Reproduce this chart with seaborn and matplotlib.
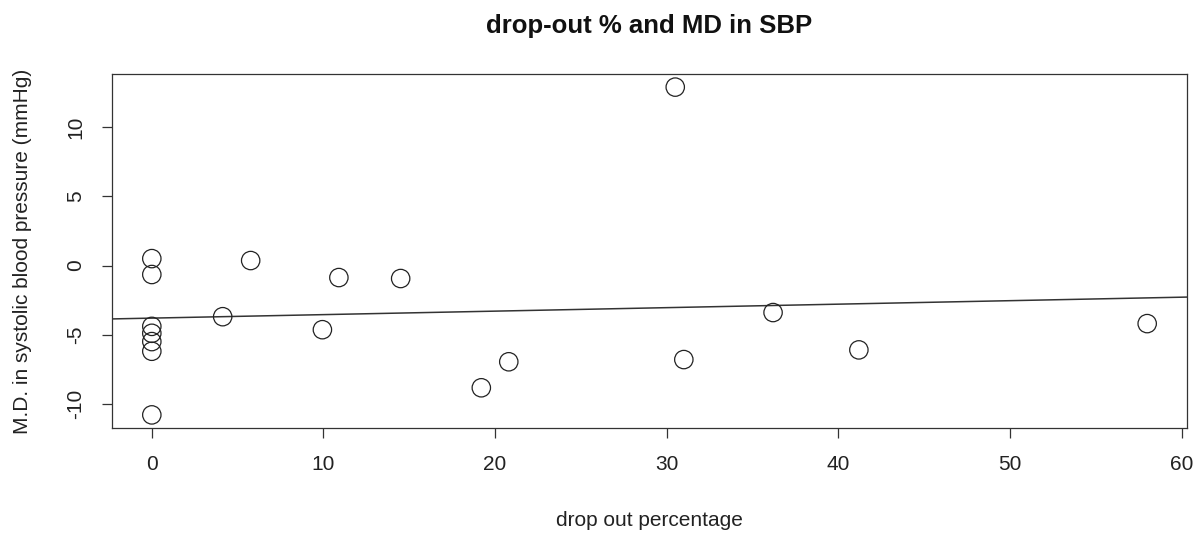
import numpy as np
import pandas as pd
import matplotlib
matplotlib.use("Agg")
import matplotlib.pyplot as plt
import seaborn as sns

# Data
dropout_pct = [0, 0, 0, 0, 0, 0, 0, 4.13, 5.76, 9.94, 10.9, 14.5, 19.2, 20.8,
               30.5, 31.0, 36.2, 41.2, 58.0]
md_sbp = [0.5, -0.65, -4.4, -4.9, -5.5, -6.2, -10.8, -3.7, 0.36, -4.64, -0.87,
          -0.94, -8.84, -6.96, 12.9, -6.8, -3.4, -6.1, -4.2]
x_ticks = [0, 10, 20, 30, 40, 50, 60]
y_ticks = [-10, -5, 0, 5, 10]
title = "drop-out % and MD in SBP"
xlabel = "drop out percentage"
ylabel = "M.D. in systolic blood pressure (mmHg)"

df = pd.DataFrame({"x": dropout_pct, "y": md_sbp})

sns.set_theme(style="white")
plt.rcParams["font.family"] = ["Liberation Sans", "DejaVu Sans"]
plt.rcParams["axes.unicode_minus"] = False

fig = plt.figure(figsize=(12.03, 5.38), dpi=100)
W, H = 1203, 538
L, R, T, B = 112, 1187, 74, 428
ax = fig.add_axes([L / W, 1 - B / H, (R - L) / W, (B - T) / H])

sns.scatterplot(data=df, x="x", y="y", ax=ax, s=175, marker="o",
                facecolor="none", edgecolor="#222222", linewidth=0.9,
                legend=False, zorder=3)

# R-style 4% padding
xmin, xmax = min(dropout_pct), max(dropout_pct)
ymin, ymax = min(md_sbp), max(md_sbp)
px, py = 0.04 * (xmax - xmin), 0.04 * (ymax - ymin)
ax.set_xlim(xmin - px, xmax + px)
ax.set_ylim(ymin - py, ymax + py)

slope, intercept = np.polyfit(df["x"], df["y"], 1)
ax.axline((0, intercept), slope=slope, color="#333333", linewidth=1.1, zorder=2)

ax.set_xticks(x_ticks)
ax.set_yticks(y_ticks)
ax.tick_params(axis="both", direction="out", length=7.5, width=0.9,
               color="#333333", labelsize=15, labelcolor="#222222",
               bottom=True, left=True, pad=12)
for lab in ax.get_yticklabels():
    lab.set_rotation(90)
    lab.set_va("center")

for sp in ax.spines.values():
    sp.set_visible(True)
    sp.set_color("#333333")
    sp.set_linewidth(0.9)

ax.set_xlabel(xlabel, fontsize=15, color="#222222")
ax.xaxis.set_label_coords(0.5, (B - 520) / (B - T))
ax.xaxis.label.set_va("center")
ax.set_ylabel(ylabel, fontsize=15, color="#222222")
ax.yaxis.set_label_coords((22 - L) / (R - L), 0.5)
ax.yaxis.label.set_va("center")

fig.text(0.5 * (L + R) / W, 1 - 26 / H, title, ha="center", va="center",
         fontsize=18.5, fontweight="bold", color="#111111")

fig.savefig("out.png", dpi=100)
